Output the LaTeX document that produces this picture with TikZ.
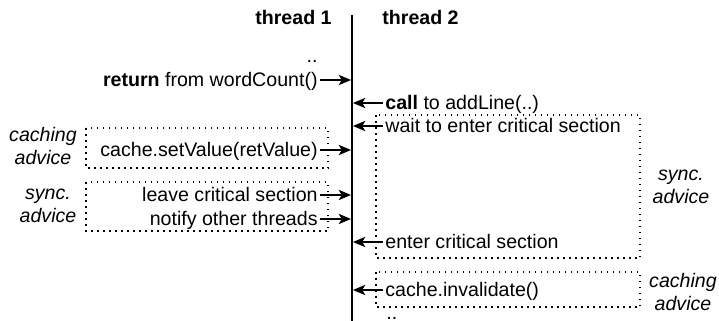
\documentclass[tikz,border=0pt]{standalone}
\usepackage{fontspec}
\setmainfont{Liberation Sans}
\usetikzlibrary{arrows.meta}
\begin{document}
\begin{tikzpicture}[x=0.5pt,y=-0.5pt,
  every node/.style={font=\fontsize{9.8}{11.5}\selectfont, inner sep=0pt},
  lbl/.style={text height=8pt,text depth=2pt,inner xsep=1pt},
  adv/.style={font=\fontsize{9.8}{11.5}\selectfont\itshape, align=center},
  msg/.style={-{Stealth[length=6.2pt,width=5.2pt,inset=1.6pt]}, line width=0.55pt, shorten >=0.5pt},
  dotbox/.style={line width=0.75pt, dash pattern=on 0.75pt off 2.25pt},
  life/.style={line width=1.2pt}]
\useasboundingbox (0,0) rectangle (719,321);
% lifeline between the two threads
\coordinate (top) at (352,15);
\coordinate (bot) at (352,321);
\draw[life] (top) -- (bot);
% headers
\node[anchor=base east] (t1) at (332,25) {\textbf{thread 1}};
\node[anchor=base west] (t2) at (382,25) {\textbf{thread 2}};
% advice boxes
\draw[dotbox] (86,128) rectangle (328,168);
\draw[dotbox] (86,182) rectangle (328,231);
\draw[dotbox] (376,115) rectangle (640,258);
\draw[dotbox] (376,272) rectangle (640,307);
% advice labels
\node[adv] (lca) at (43,146) {caching\\advice};
\node[adv] (lsa) at (48,206) {sync.\\advice};
\node[adv] (rsa) at (681,187) {sync.\\advice};
\node[adv] (rca) at (683,292) {caching\\advice};
% thread 1 messages
\node[anchor=base east] (d1) at (318,62) {..};
\node[lbl,anchor=east] (ret) at (320,80) {\textbf{return} from wordCount()};
\node[lbl,anchor=east] (setv) at (320,150) {cache.setValue(retValue)};
\node[lbl,anchor=east] (leave) at (320,195) {leave critical section};
\node[lbl,anchor=east] (notify) at (320,219) {notify other threads};
\draw[msg] (ret.east) -- (ret.east -| top);
\draw[msg] (setv.east) -- (setv.east -| top);
\draw[msg] (leave.east) -- (leave.east -| top);
\draw[msg] (notify.east) -- (notify.east -| top);
% thread 2 messages
\node[lbl,anchor=west] (call) at (383,103) {\textbf{call} to addLine(..)};
\node[lbl,anchor=west] (wait) at (383,126) {wait to enter critical section};
\node[lbl,anchor=west] (enter) at (383,242) {enter critical section};
\node[lbl,anchor=west] (inval) at (383,290) {cache.invalidate()};
\node[anchor=base west] (d2) at (386,319) {..};
\draw[msg] (call.west) -- (call.west -| top);
\draw[msg] (wait.west) -- (wait.west -| top);
\draw[msg] (enter.west) -- (enter.west -| top);
\draw[msg] (inval.west) -- (inval.west -| top);
\end{tikzpicture}
\end{document}
